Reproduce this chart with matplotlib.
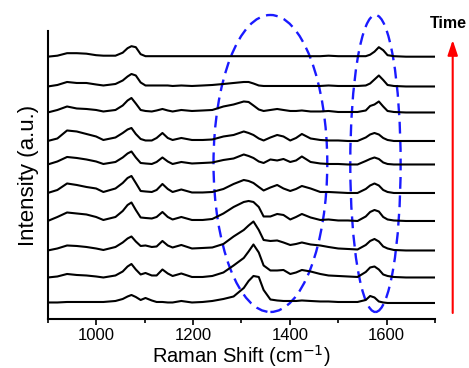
import matplotlib
matplotlib.use("Agg")
import matplotlib.pyplot as plt
from matplotlib.patches import Ellipse
from matplotlib.ticker import MultipleLocator

plt.rcParams['font.family'] = ['Liberation Sans', 'DejaVu Sans']

# Raman shift grid (cm-1)
wavenumber = [900, 920, 940, 960, 980, 1000, 1015, 1040, 1055, 1065, 1073, 1082, 1092,
              1102, 1115, 1125, 1137, 1148, 1158, 1176, 1198, 1220, 1240, 1263, 1284,
              1305, 1315, 1325, 1336, 1346, 1360, 1374, 1387, 1401, 1413, 1425, 1443,
              1463, 1480, 1500, 1520, 1540, 1557, 1566, 1575, 1584, 1593, 1602, 1615,
              1640, 1670, 1700]

# vertical offsets of the stacked spectra (a.u.), bottom to top
offsets = [16, 41.5, 68.5, 98, 126, 154.5, 178, 206.5, 232.5, 262.3]

# intensities above each spectrum's baseline (a.u.), bottom (earliest) to top (latest)
spec_0 = [0.5, 0.5, 1, 1, 1, 1, 1, 2, 4, 6.5, 8, 6, 3, 5, 2.5, 1, 1, 0.5, 0.5, 2, 0.5, 1, 2,
          4, 6.5, 15, 22, 27, 26, 13, 3.5, 2.5, 2, 2, 2, 2.5, 2, 1.5, 1.5, 1, 1, 1, 3, 7, 5.5,
          1.5, 0.5, 0, 0, 0, 0, 0]
spec_1 = [0, 1, 3.5, 2.5, 2, 1, 0, 2, 6, 11, 13.5, 8, 3, 4.5, 2, 2, 8, 4, 1.5, 4, 0.5, 0.5,
          1.5, 5, 12, 19.5, 26, 33, 25, 12, 7, 7, 7.5, 3.5, 5, 7.5, 6, 3.5, 2, 1.5, 1, 0.5,
          5.5, 10, 11, 8, 3, 1.5, 0.5, 0, 0, 0]
spec_2 = [0, 2, 5, 4.5, 3.5, 2, 0.5, 3.5, 8, 12, 14, 9, 4.5, 5, 3.5, 4, 9.5, 5, 3, 5.5, 2,
          2.5, 3, 6.5, 14, 20.5, 25, 29, 20.5, 10.5, 9.5, 10, 8, 5.5, 6.5, 8, 6, 5, 3.5, 2,
          1.5, 1, 5.5, 9.5, 11.5, 9, 4, 2, 0.5, 0, 0, 0]
spec_3 = [0, 4, 8.5, 7.5, 6.5, 4, 1, 4, 10, 16, 18.5, 11, 3.5, 3, 2.5, 4, 9, 4, 1.5, 4, 1, 1,
          2, 7.5, 14, 19, 20, 19, 14, 4.5, 4.5, 7, 6, 1.5, 4, 7, 3.5, 1, 1.5, 0.5, 0.5, 0,
          4.5, 9, 11, 9.5, 4, 1.5, 0.5, 0, 0, 0]
spec_4 = [0, 3, 9.5, 8, 6, 4.5, 1, 4.5, 10, 15, 17, 10, 2, 1.5, 1, 3, 9, 4, 1, 3.5, 0.5, 0.5,
          1, 4, 9, 13, 12, 10, 6, 2.5, 5.5, 8, 4.5, 2, 4, 7, 4.5, 1, 1, 0.5, 0, 0, 4, 7.5,
          9.5, 7.5, 3, 1, 0, 0, 0, 0]
spec_5 = [0, 3, 7.5, 6.5, 5, 3, 0.5, 2.5, 7, 11, 13, 7, 1.5, 1, 0.5, 2.5, 7, 3, 0.5, 2.5, 1,
          1.5, 2, 4.5, 6, 10, 8.5, 6.5, 3, 1.5, 5, 4, 5.5, 2.5, 4, 8, 2.5, 1, 0.5, 0.5, 0, 0,
          3.5, 5.5, 7, 5.5, 2, 0.5, 0, 0, 0, 0]
spec_6 = [0, 2.5, 10.5, 9.5, 7, 4.5, 1, 3.5, 8, 11.5, 13, 7, 2, 0.5, 0.5, 3, 8, 3, 1, 3, 1, 1,
          1.5, 4.5, 6, 9.5, 8, 6, 2.5, 0.5, 3.5, 6, 4.5, 0.5, 3, 7, 2.5, 1, 0.5, 0.5, 0, 0,
          3.5, 6.5, 8, 6.5, 3, 1, 0, 0, 0, 0]
spec_7 = [0, 2.5, 6, 4, 3.5, 2.5, 1, 2.5, 7, 12, 14.5, 9, 2.5, 1.5, 1, 2, 3.5, 2, 1, 2.5, 1.5,
          2, 2.5, 6, 8, 11, 10.5, 7, 3, 1.5, 2.5, 3.5, 2.5, 1.5, 1.5, 2, 1, 1, 1.5, 0.5, 0.5,
          0.5, 2, 6.5, 8, 11, 6, 1.5, 0.5, 0, 0, 0]
spec_8 = [0, 1.5, 4.5, 3.5, 3.5, 2, 1, 2.5, 6, 10, 12.5, 11, 4, 1, 1, 1, 1, 1, 0.5, 1, 0.5, 1,
          1.5, 2.5, 3.5, 4.5, 4.5, 3, 1, 0.5, 0.5, 0.5, 0.5, 0.5, 0.5, 0.5, 0.5, 0.5, 1, 0.5,
          0.5, 0.5, 1, 3, 7, 11, 6.5, 1.5, 0.5, 0, 0, 0]
spec_9 = [0, 1, 3.5, 3.5, 3, 1.5, 1, 1, 4, 8.5, 10.5, 9.5, 2.5, 0.5, 0.5, 0.5, 0.5, 0.5, 0.5,
          0.5, 0.5, 0.5, 0.5, 0.5, 0.5, 0.5, 0.5, 0.5, 0.5, 0.5, 0.5, 0.5, 0.5, 0.5, 0.5, 0.5,
          0.5, 0.5, 1, 0.5, 0.5, 0.5, 0.5, 2, 5, 9.5, 6.5, 1.5, 0.5, 0, 0, 0]
spectra = [spec_0, spec_1, spec_2, spec_3, spec_4, spec_5, spec_6, spec_7, spec_8, spec_9]

# highlighted regions (center, width in cm-1)
regions = [(1360, 235), (1577, 104)]

x_ticks = [1000, 1200, 1400, 1600]

fig = plt.figure(figsize=(4.69, 3.68), dpi=100)
ax = fig.add_axes([0.1017, 0.1332, 0.8258, 0.7826])

for off, spec in zip(offsets, spectra):
    ax.plot(wavenumber, [off + v for v in spec], color='black', lw=1.5, solid_joinstyle='round')

for cx, w in regions:
    e = Ellipse((cx, 155.5), w, 297, fill=False, edgecolor='#1a1aff', lw=1.7,
                linestyle=(0, (5, 2.8)), clip_on=False)
    ax.add_patch(e)

ax.set_xlim(900, 1700)
ax.set_ylim(0, 288)
ax.set_xticks(x_ticks)
ax.xaxis.set_minor_locator(MultipleLocator(100))
ax.set_yticks([])
for s in ['top', 'right']:
    ax.spines[s].set_visible(False)
for s in ['left', 'bottom']:
    ax.spines[s].set_linewidth(1.5)
ax.tick_params(axis='x', which='major', length=4, width=1.2, labelsize=12, pad=2.5)
ax.tick_params(axis='x', which='minor', length=3, width=1.2)
ax.set_xlabel('Raman Shift (cm$^{-1}$)', fontsize=14.5, labelpad=0)
ax.set_ylabel('Intensity (a.u.)', fontsize=16, labelpad=6)

ax.annotate('', xy=(452.7, 328), xytext=(452.7, 55), xycoords='figure pixels',
            textcoords='figure pixels',
            arrowprops=dict(arrowstyle='-|>,head_length=0.9,head_width=0.3', color='red',
                            lw=1.5, mutation_scale=10, shrinkA=0, shrinkB=0))
fig.text(430 / 469, (368 - 23.3) / 368, 'Time', fontsize=11.5, fontweight='bold',
         va='center', ha='left')

fig.savefig('out.png', dpi=100)
